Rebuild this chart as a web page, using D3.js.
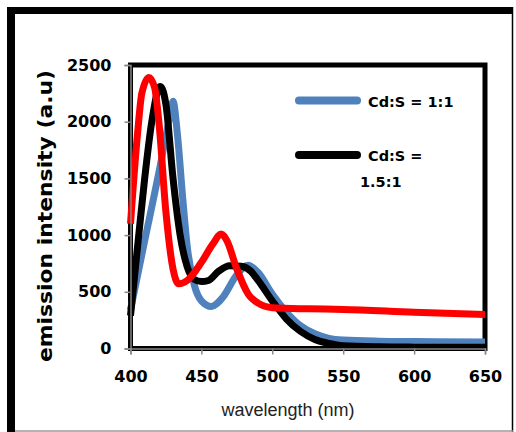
<!DOCTYPE html>
<html lang="en">
<head>
<meta charset="UTF-8">
<title>Emission spectra</title>
<script src="https://cdn.jsdelivr.net/npm/d3@7/dist/d3.min.js"></script>
<style>
    body { margin: 0; background: #fff; }
    svg { display: block; }
</style>
</head>
<body>
<svg id="chart" width="516" height="432"></svg>
<script>
    /* global d3 */

    // wavelength (nm) / emission intensity
    var blueX  = [400, 410, 420, 427, 430, 433, 437, 440, 445, 450, 457, 465, 475, 483, 490, 500, 510, 520, 530, 540, 550, 575, 600, 650];
    var blueY  = [340, 950, 1550, 2000, 2180, 1900, 1300, 900, 560, 420, 370, 450, 650, 735, 670, 480, 320, 200, 130, 90, 75, 65, 62, 58];

    var blackX = [400, 405, 410, 415, 421, 425, 430, 435, 440, 445, 450, 455, 462, 470, 478, 485, 490, 500, 510, 520, 530, 540, 550, 575, 600, 650];
    var blackY = [290, 900, 1500, 2000, 2310, 2150, 1500, 1000, 720, 610, 590, 600, 680, 730, 725, 680, 600, 420, 260, 150, 80, 45, 25, 15, 12, 10];

    var redX   = [400, 405, 408, 413, 417, 420, 425, 430, 434, 440, 450, 458, 464, 468, 475, 483, 490, 500, 525, 550, 600, 650];
    var redY   = [1100, 1900, 2250, 2390, 2300, 2000, 1200, 700, 570, 600, 760, 920, 1010, 950, 700, 480, 400, 360, 350, 345, 320, 300];

    var xTicks = [400, 450, 500, 550, 600, 650];
    var yTicks = [0, 500, 1000, 1500, 2000, 2500];

    var series = [
        {name: "Cd:S = 1:1", xs: blueX, ys: blueY, color: "#4f81bd"},
        {name: "Cd:S = 1.5:1", xs: blackX, ys: blackY, color: "#000"},
        {name: "red", xs: redX, ys: redY, color: "#ff0000"}
    ];

    var svg = d3.select("#chart"),
        x = d3.scaleLinear().domain([400, 650]).range([130.5, 485]),
        y = d3.scaleLinear().domain([0, 2500]).range([348.5, 65]),
        boldFont = "DejaVu Sans, sans-serif";

    // outer frame
    svg.append("line").attr("x1", 11).attr("x2", 11).attr("y1", 7).attr("y2", 432)
        .attr("stroke", "#000").attr("stroke-width", 8);
    svg.append("line").attr("x1", 7).attr("x2", 513).attr("y1", 10.5).attr("y2", 10.5)
        .attr("stroke", "#000").attr("stroke-width", 7);
    svg.append("line").attr("x1", 512.5).attr("x2", 512.5).attr("y1", 7).attr("y2", 432)
        .attr("stroke", "#000").attr("stroke-width", 1.5);
    svg.append("line").attr("x1", 15).attr("x2", 513).attr("y1", 431).attr("y2", 431)
        .attr("stroke", "#999").attr("stroke-width", 1.5);

    // plot frame
    svg.append("rect")
        .attr("x", x(400)).attr("y", y(2500))
        .attr("width", x(650) - x(400)).attr("height", y(0) - y(2500))
        .attr("fill", "none").attr("stroke", "#000").attr("stroke-width", 5);

    var line = d3.line()
        .x(function (d) { return x(d[0]); })
        .y(function (d) { return y(d[1]); })
        .curve(d3.curveMonotoneX);

    series.forEach(function (s) {
        svg.append("path")
            .datum(d3.zip(s.xs, s.ys))
            .attr("d", line)
            .attr("fill", "none")
            .attr("stroke", s.color)
            .attr("stroke-width", 7)
            .attr("stroke-linejoin", "round");
    });

    // axes
    var xAxis = svg.append("g")
        .attr("transform", "translate(0," + y(0) + ")")
        .call(d3.axisBottom(x).tickValues(xTicks).tickFormat(d3.format("d")).tickSize(6).tickPadding(16));
    var yAxis = svg.append("g")
        .attr("transform", "translate(" + x(400) + ",0)")
        .call(d3.axisLeft(y).tickValues(yTicks).tickFormat(d3.format("d")).tickSize(6).tickPadding(13));

    [xAxis, yAxis].forEach(function (g) {
        g.select(".domain").attr("stroke", "#888").attr("stroke-width", 1.5);
        g.selectAll(".tick line").attr("stroke", "#888").attr("stroke-width", 1.5);
        g.selectAll(".tick text")
            .attr("fill", "#000")
            .style("font-family", boldFont)
            .style("font-weight", "bold")
            .style("font-size", "16px");
    });

    // titles
    svg.append("text")
        .attr("x", 288).attr("y", 416)
        .attr("text-anchor", "middle")
        .style("font-family", "Liberation Sans, Arial, sans-serif")
        .style("font-size", "18px")
        .attr("fill", "#222")
        .text("wavelength (nm)");

    svg.append("text")
        .attr("transform", "translate(52,216) rotate(-90)")
        .attr("text-anchor", "middle")
        .attr("textLength", 292)
        .attr("lengthAdjust", "spacingAndGlyphs")
        .style("font-family", boldFont)
        .style("font-weight", "bold")
        .style("font-size", "20px")
        .text("emission  intensity (a.u)");

    // legend (only the first two entries are shown)
    var legend = svg.append("g");
    legend.append("line").attr("x1", 299).attr("x2", 357).attr("y1", 100.5).attr("y2", 100.5)
        .attr("stroke", series[0].color).attr("stroke-width", 8).attr("stroke-linecap", "round");
    legend.append("text").attr("x", 368).attr("y", 107)
        .style("font-family", boldFont).style("font-weight", "bold").style("font-size", "14.5px")
        .text(series[0].name);
    legend.append("line").attr("x1", 299).attr("x2", 357).attr("y1", 155).attr("y2", 155)
        .attr("stroke", series[1].color).attr("stroke-width", 8).attr("stroke-linecap", "round");
    legend.append("text").attr("x", 368).attr("y", 161)
        .style("font-family", boldFont).style("font-weight", "bold").style("font-size", "14.5px")
        .text("Cd:S =");
    legend.append("text").attr("x", 360).attr("y", 187)
        .style("font-family", boldFont).style("font-weight", "bold").style("font-size", "14.5px")
        .text("1.5:1");
</script>
</body>
</html>
